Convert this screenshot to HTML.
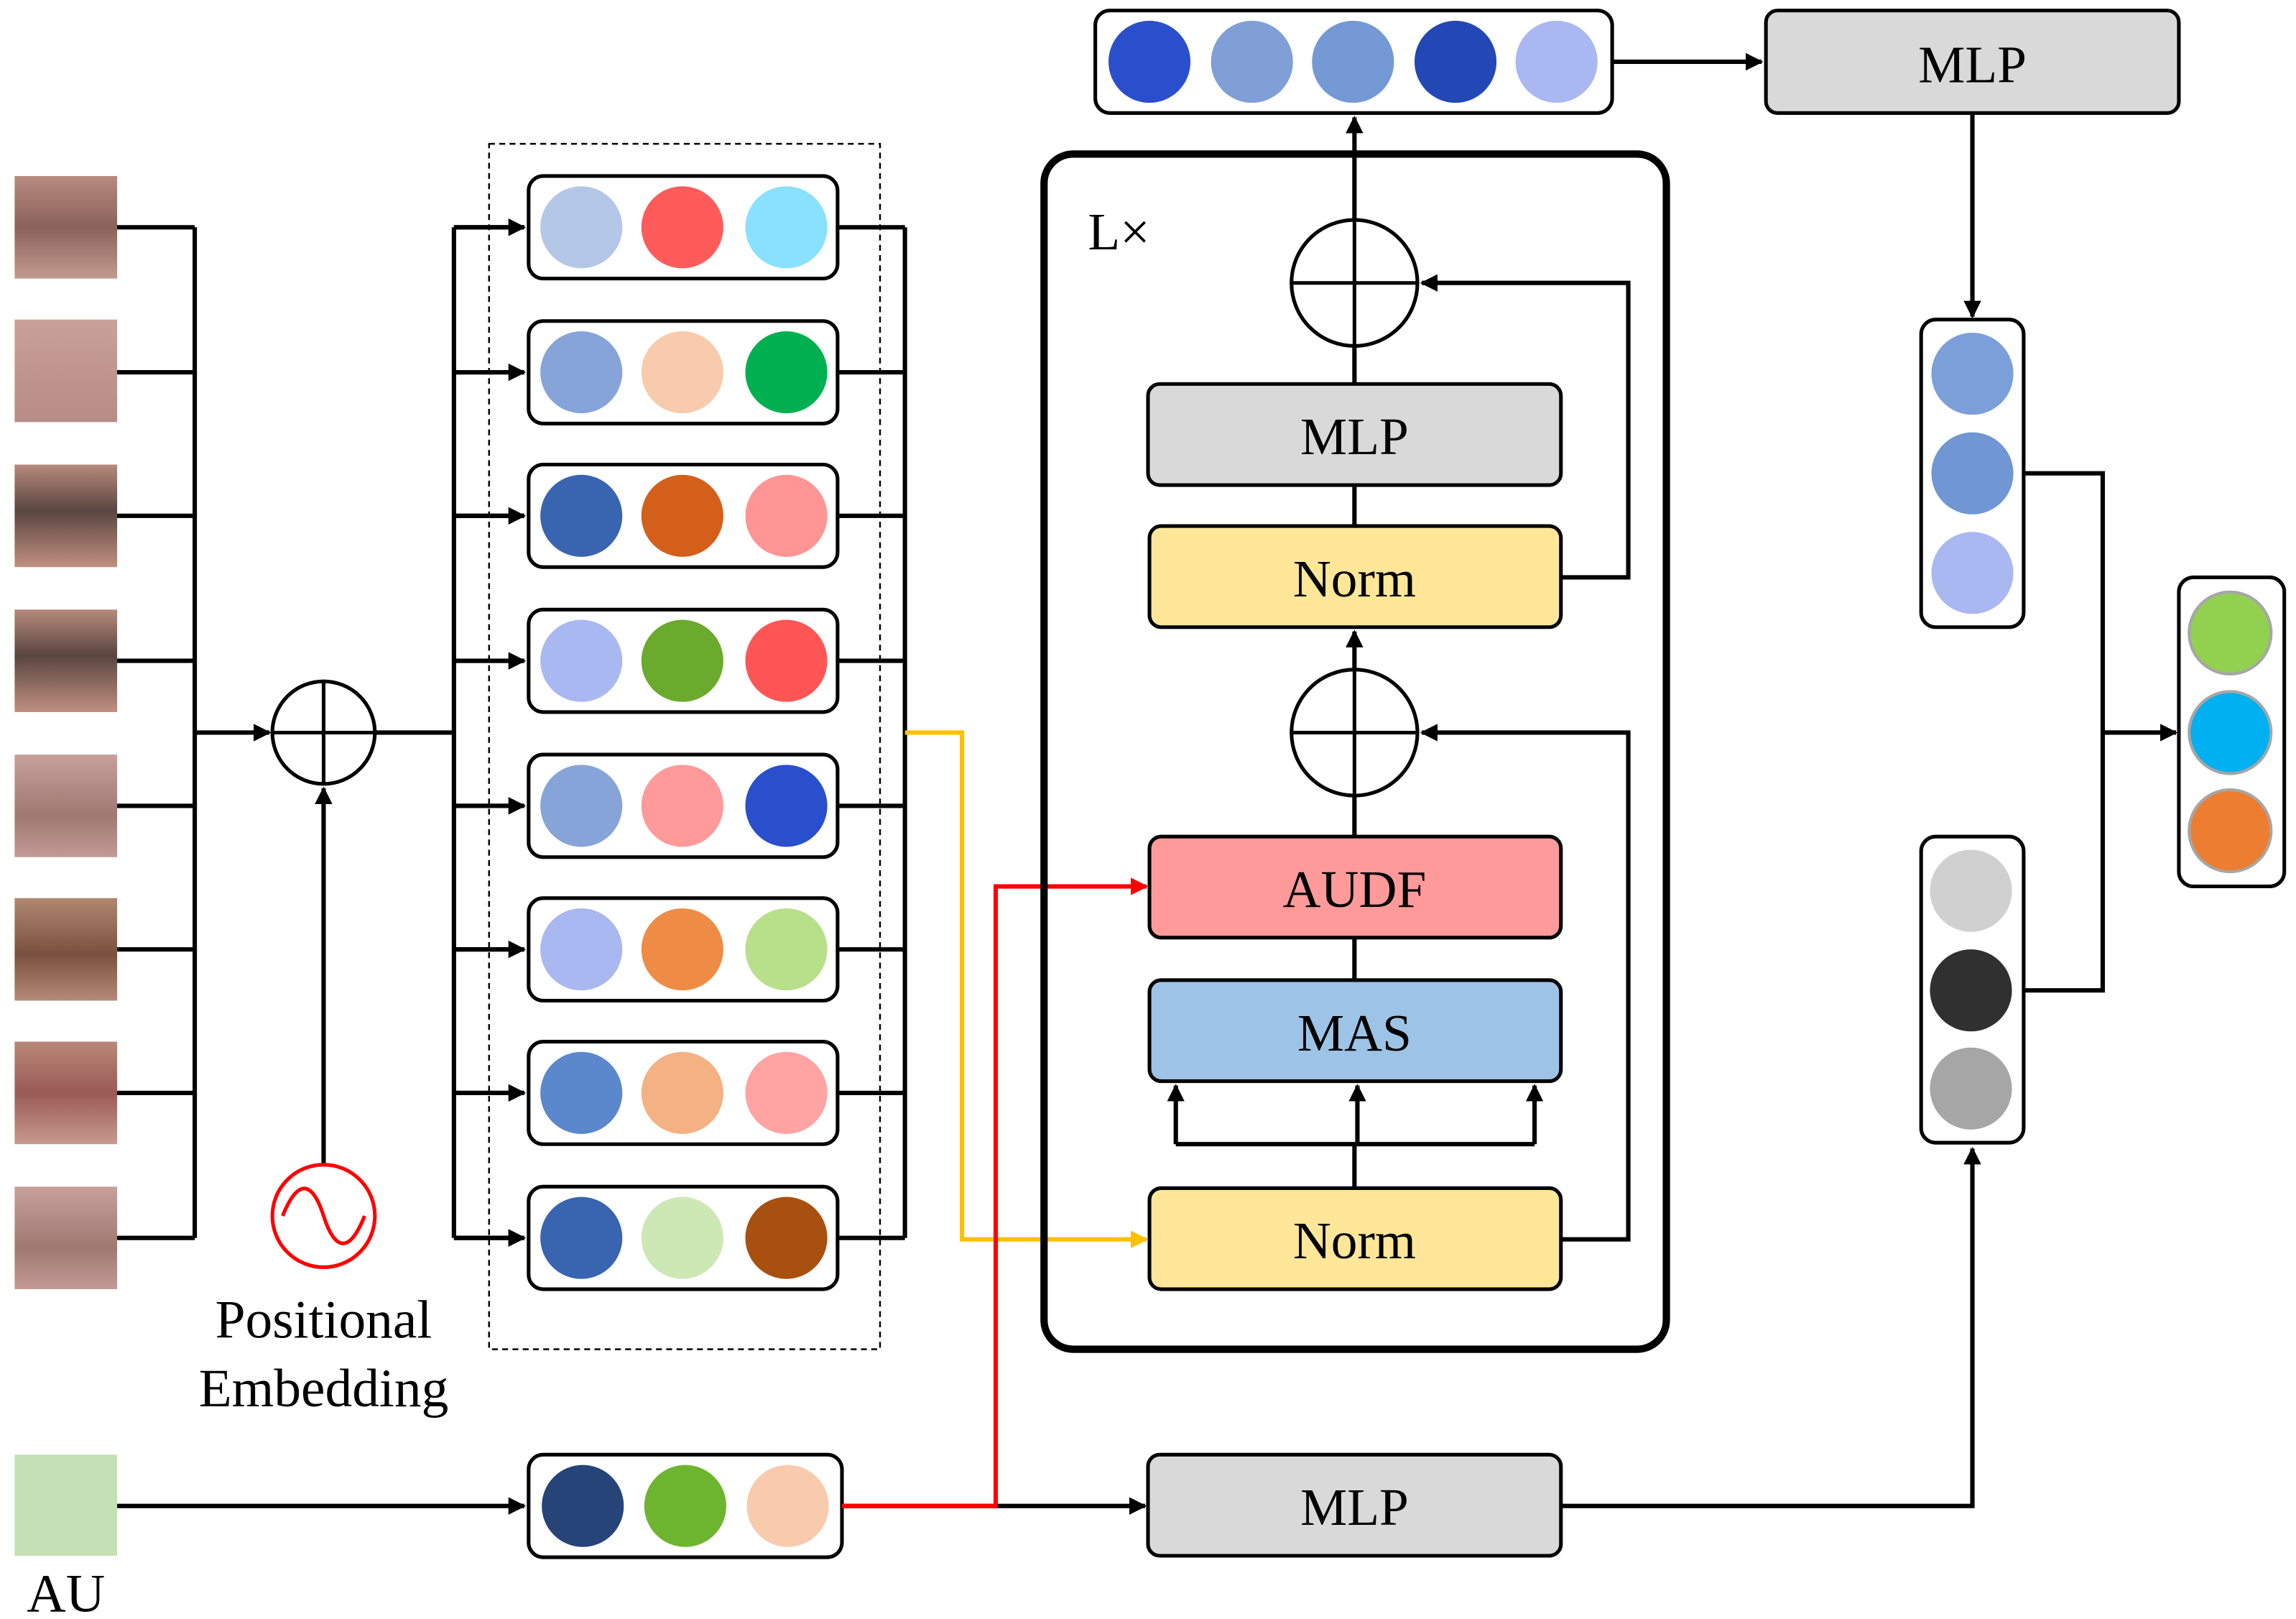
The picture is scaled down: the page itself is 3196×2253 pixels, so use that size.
<!DOCTYPE html>
<html><head><meta charset="utf-8"><style>html,body{margin:0;padding:0;background:#fff}svg{display:block}</style></head><body>
<svg width="3196" height="2253" viewBox="0 0 1568 1105" xmlns="http://www.w3.org/2000/svg" font-family="'Liberation Serif', serif">
<defs>
<marker id="a" markerWidth="8" markerHeight="8" refX="7" refY="4" orient="auto" markerUnits="userSpaceOnUse"><path d="M0,0 L8,4 L0,8 z" fill="#000"/></marker>
<marker id="ar" viewBox="0 0 10 10" markerWidth="12" markerHeight="12" refX="9" refY="5" orient="auto" markerUnits="userSpaceOnUse"><path d="M0,0 L10,5 L0,10 z" fill="#000"/></marker>
<marker id="ary" viewBox="0 0 10 10" markerWidth="12" markerHeight="12" refX="9" refY="5" orient="auto" markerUnits="userSpaceOnUse"><path d="M0,0 L10,5 L0,10 z" fill="#ffc000"/></marker>
<marker id="arr" viewBox="0 0 10 10" markerWidth="12" markerHeight="12" refX="9" refY="5" orient="auto" markerUnits="userSpaceOnUse"><path d="M0,0 L10,5 L0,10 z" fill="#ff0000"/></marker>
<linearGradient id="f1" x1="0" y1="0" x2="0" y2="1"><stop offset="0" stop-color="#b88a80"/><stop offset="0.5" stop-color="#8a625a"/><stop offset="1" stop-color="#c39a8f"/></linearGradient>
<linearGradient id="f2" x1="0" y1="0" x2="0" y2="1"><stop offset="0" stop-color="#c9a09a"/><stop offset="1" stop-color="#b88b86"/></linearGradient>
<linearGradient id="f3" x1="0" y1="0" x2="0" y2="1"><stop offset="0" stop-color="#b68a7c"/><stop offset="0.45" stop-color="#5a4540"/><stop offset="1" stop-color="#c09080"/></linearGradient>
<linearGradient id="f4" x1="0" y1="0" x2="0" y2="1"><stop offset="0" stop-color="#c7a09c"/><stop offset="0.6" stop-color="#a07872"/><stop offset="1" stop-color="#c39a95"/></linearGradient>
<linearGradient id="f5" x1="0" y1="0" x2="0" y2="1"><stop offset="0" stop-color="#b08870"/><stop offset="0.55" stop-color="#7a5040"/><stop offset="1" stop-color="#b58a78"/></linearGradient>
<linearGradient id="f6" x1="0" y1="0" x2="0" y2="1"><stop offset="0" stop-color="#b88878"/><stop offset="0.5" stop-color="#9a5a55"/><stop offset="1" stop-color="#c79a90"/></linearGradient>
</defs>
<g stroke="none">
<rect x="10" y="120" width="70" height="70" fill="url(#f1)"/>
<rect x="10" y="218" width="70" height="70" fill="url(#f2)"/>
<rect x="10" y="317" width="70" height="70" fill="url(#f3)"/>
<rect x="10" y="416" width="70" height="70" fill="url(#f3)"/>
<rect x="10" y="515" width="70" height="70" fill="url(#f4)"/>
<rect x="10" y="613" width="70" height="70" fill="url(#f5)"/>
<rect x="10" y="711" width="70" height="70" fill="url(#f6)"/>
<rect x="10" y="810" width="70" height="70" fill="url(#f4)"/>
<rect x="10" y="993" width="70" height="69" fill="#c5e0b4"/>
</g>
<g stroke="#000" stroke-width="3" fill="none">
<path d="M80,155H133M80,254H133M80,352H133M80,451H133M80,550H133M80,648H133M80,746H133M80,845H133M133,155V845"/>
<path d="M133,500H184" marker-end="url(#ar)"/>
<path d="M256,500H310M310,155V845"/>
<path d="M310,155H358M310,254H358M310,352H358M310,451H358M310,550H358M310,648H358M310,746H358M310,845H358" marker-end="url(#ar)"/>
<path d="M310,155H358" marker-end="url(#ar)"/><path d="M310,254H358" marker-end="url(#ar)"/><path d="M310,352H358" marker-end="url(#ar)"/><path d="M310,451H358" marker-end="url(#ar)"/><path d="M310,550H358" marker-end="url(#ar)"/><path d="M310,648H358" marker-end="url(#ar)"/><path d="M310,746H358" marker-end="url(#ar)"/><path d="M310,845H358" marker-end="url(#ar)"/>
<path d="M572,155H618M572,254H618M572,352H618M572,451H618M572,550H618M572,648H618M572,746H618M572,845H618M618,155V845"/>
<path d="M221,795V538" marker-end="url(#ar)"/>
<path d="M80,1028H358" marker-end="url(#ar)"/>
<path d="M575,1028H782" marker-end="url(#ar)"/>
</g>
<rect x="334" y="98" width="267" height="823" fill="none" stroke="#000" stroke-width="1.2" stroke-dasharray="4,3"/>
<circle cx="221" cy="500" r="35" fill="#fff" stroke="#000" stroke-width="2.5"/>
<path d="M186,500H256M221,465V535" stroke="#000" stroke-width="2.5"/>
<circle cx="221" cy="830" r="35" fill="#fff" stroke="#ff0000" stroke-width="2.5"/>
<path d="M193,830 C203,805 213,805 221,830 S239,855 249,830" fill="none" stroke="#ff0000" stroke-width="2.5"/>
<text x="221" y="913" font-size="37" text-anchor="middle">Positional</text>
<text x="221" y="960" font-size="37" text-anchor="middle">Embedding</text>
<text x="45" y="1100" font-size="37" text-anchor="middle">AU</text>
<g stroke="#000" stroke-width="2.5" fill="#fff">
<rect x="361" y="120" width="211" height="70" rx="10"/>
<rect x="361" y="219" width="211" height="70" rx="10"/>
<rect x="361" y="317" width="211" height="70" rx="10"/>
<rect x="361" y="416" width="211" height="70" rx="10"/>
<rect x="361" y="515" width="211" height="70" rx="10"/>
<rect x="361" y="613" width="211" height="70" rx="10"/>
<rect x="361" y="711" width="211" height="70" rx="10"/>
<rect x="361" y="810" width="211" height="70" rx="10"/>
<rect x="361" y="993" width="214" height="70" rx="10"/>
</g>
<g>
<circle cx="397" cy="155" r="28" fill="#b4c7e7"/><circle cx="466" cy="155" r="28" fill="#ff5b5b"/><circle cx="537" cy="155" r="28" fill="#8ae0ff"/>
<circle cx="397" cy="254" r="28" fill="#87a4d8"/><circle cx="466" cy="254" r="28" fill="#f8cbad"/><circle cx="537" cy="254" r="28" fill="#00b050"/>
<circle cx="397" cy="352" r="28" fill="#3864b0"/><circle cx="466" cy="352" r="28" fill="#d45f1a"/><circle cx="537" cy="352" r="28" fill="#ff9595"/>
<circle cx="397" cy="451" r="28" fill="#a9b8f0"/><circle cx="466" cy="451" r="28" fill="#6aaa2d"/><circle cx="537" cy="451" r="28" fill="#ff5555"/>
<circle cx="397" cy="550" r="28" fill="#87a4d8"/><circle cx="466" cy="550" r="28" fill="#ff9a9a"/><circle cx="537" cy="550" r="28" fill="#2a4fcc"/>
<circle cx="397" cy="648" r="28" fill="#a9b8f0"/><circle cx="466" cy="648" r="28" fill="#ee8c45"/><circle cx="537" cy="648" r="28" fill="#b8df8a"/>
<circle cx="397" cy="746" r="28" fill="#5b87cc"/><circle cx="466" cy="746" r="28" fill="#f4b183"/><circle cx="537" cy="746" r="28" fill="#ffa3a3"/>
<circle cx="397" cy="845" r="28" fill="#3864b0"/><circle cx="466" cy="845" r="28" fill="#cde8b4"/><circle cx="537" cy="845" r="28" fill="#a8500f"/>
<circle cx="398" cy="1028" r="28" fill="#264478"/><circle cx="468" cy="1028" r="28" fill="#6eb52f"/><circle cx="538" cy="1028" r="28" fill="#f8cbad"/>
</g>
<path d="M618,500H657V846H783" fill="none" stroke="#ffc000" stroke-width="3" marker-end="url(#ary)"/>
<path d="M575,1028H680V605H783" fill="none" stroke="#ff0000" stroke-width="3" marker-end="url(#arr)"/>
<rect x="713" y="105" width="425" height="816" rx="20" fill="none" stroke="#000" stroke-width="5"/>
<text x="743" y="170" font-size="36">L×</text>
<g stroke="#000" stroke-width="3" fill="none">
<path d="M925,811V781M803,781H1048"/>
<path d="M803,781V741" marker-end="url(#ar)"/><path d="M927,781V741" marker-end="url(#ar)"/><path d="M1048,781V741" marker-end="url(#ar)"/>
<path d="M925,640V669M925,571V543"/>
<path d="M925,457V431" marker-end="url(#ar)"/>
<path d="M925,331V359M925,262V236"/>
<path d="M925,150V80" marker-end="url(#ar)"/>
<path d="M1066,846H1112V500H971" marker-end="url(#ar)"/>
<path d="M1066,394H1112V193H971" marker-end="url(#ar)"/>
<path d="M1101,42H1203" marker-end="url(#ar)"/>
<path d="M1347,77V216" marker-end="url(#ar)"/>
<path d="M1382,323H1436V676H1382M1436,500H1486" />
<path d="M1436,500H1486" marker-end="url(#ar)"/>
<path d="M1066,1028H1347V784" marker-end="url(#ar)"/>
</g>
<g stroke="#000" stroke-width="2.5">
<rect x="785" y="811" width="281" height="69" rx="8" fill="#ffe699"/>
<rect x="785" y="669" width="281" height="69" rx="8" fill="#9dc3e6"/>
<rect x="785" y="571" width="281" height="69" rx="8" fill="#ff9a9a"/>
<rect x="785" y="359" width="281" height="69" rx="8" fill="#ffe699"/>
<rect x="784" y="262" width="282" height="69" rx="8" fill="#d9d9d9"/>
<rect x="784" y="993" width="282" height="69" rx="8" fill="#d9d9d9"/>
<rect x="1206" y="7" width="282" height="70" rx="8" fill="#d9d9d9"/>
<rect x="748" y="7" width="353" height="70" rx="10" fill="#fff"/>
<rect x="1312" y="218" width="70" height="210" rx="10" fill="#fff"/>
<rect x="1312" y="571" width="70" height="209" rx="10" fill="#fff"/>
<rect x="1488" y="394" width="72" height="211" rx="10" fill="#fff"/>
</g>
<g stroke="#000" stroke-width="2.5" fill="#fff">
<circle cx="925" cy="500" r="43"/><circle cx="925" cy="193" r="43"/>
</g>
<path d="M882,500H968M925,457V543M882,193H968M925,150V236" stroke="#000" stroke-width="2.5"/>
<g font-size="36" text-anchor="middle">
<text x="925" y="859">Norm</text>
<text x="925" y="717">MAS</text>
<text x="925" y="619">AUDF</text>
<text x="925" y="407">Norm</text>
<text x="925" y="310">MLP</text>
<text x="925" y="1041">MLP</text>
<text x="1347" y="56">MLP</text>
</g>
<circle cx="785" cy="42" r="28" fill="#2a4fcc"/><circle cx="855" cy="42" r="28" fill="#7f9fd6"/><circle cx="924" cy="42" r="28" fill="#7499d4"/><circle cx="994" cy="42" r="28" fill="#2347b5"/><circle cx="1063" cy="42" r="28" fill="#a9b8f0"/>
<circle cx="1347" cy="255" r="28" fill="#7b9fd9"/><circle cx="1347" cy="323" r="28" fill="#7096d3"/><circle cx="1347" cy="391" r="28" fill="#a9b8f0"/>
<circle cx="1346" cy="608" r="28" fill="#d0d0d0"/><circle cx="1346" cy="676" r="28" fill="#303030"/><circle cx="1346" cy="743" r="28" fill="#a6a6a6"/>
<g stroke="#a6a6a6" stroke-width="2">
<circle cx="1523" cy="432" r="28" fill="#92d050"/><circle cx="1523" cy="500" r="28" fill="#00b0f0"/><circle cx="1523" cy="567" r="28" fill="#ed7d31"/>
</g>
</svg>
</body></html>
